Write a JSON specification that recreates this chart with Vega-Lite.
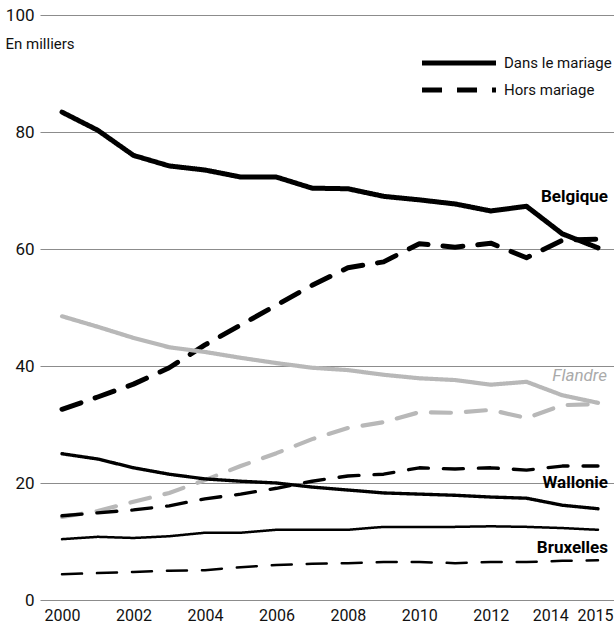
{
  "$schema": "https://vega.github.io/schema/vega-lite/v6.json",
  "width": 574,
  "height": 585,
  "autosize": {"type": "none"},
  "padding": {"left": 40, "top": 15, "right": 0, "bottom": 30},
  "config": {
    "view": {"stroke": null},
    "font": "Roboto",
    "axis": {"labelColor": "#111", "labelFont": "Roboto", "titleFont": "Roboto"},
    "legend": {"labelFont": "Roboto"},
    "text": {"font": "Roboto"}
  },
  "datasets": {
    "births": [
      {"region": "Belgique", "type": "Dans le mariage", "year": 2000, "value": 83.4},
      {"region": "Belgique", "type": "Dans le mariage", "year": 2001, "value": 80.3},
      {"region": "Belgique", "type": "Dans le mariage", "year": 2002, "value": 76.0},
      {"region": "Belgique", "type": "Dans le mariage", "year": 2003, "value": 74.2},
      {"region": "Belgique", "type": "Dans le mariage", "year": 2004, "value": 73.5},
      {"region": "Belgique", "type": "Dans le mariage", "year": 2005, "value": 72.3},
      {"region": "Belgique", "type": "Dans le mariage", "year": 2006, "value": 72.3},
      {"region": "Belgique", "type": "Dans le mariage", "year": 2007, "value": 70.4},
      {"region": "Belgique", "type": "Dans le mariage", "year": 2008, "value": 70.3},
      {"region": "Belgique", "type": "Dans le mariage", "year": 2009, "value": 69.0},
      {"region": "Belgique", "type": "Dans le mariage", "year": 2010, "value": 68.4},
      {"region": "Belgique", "type": "Dans le mariage", "year": 2011, "value": 67.7},
      {"region": "Belgique", "type": "Dans le mariage", "year": 2012, "value": 66.5},
      {"region": "Belgique", "type": "Dans le mariage", "year": 2013, "value": 67.3},
      {"region": "Belgique", "type": "Dans le mariage", "year": 2014, "value": 62.6},
      {"region": "Belgique", "type": "Dans le mariage", "year": 2015, "value": 60.2},
      {"region": "Belgique", "type": "Hors mariage", "year": 2000, "value": 32.6},
      {"region": "Belgique", "type": "Hors mariage", "year": 2001, "value": 34.7},
      {"region": "Belgique", "type": "Hors mariage", "year": 2002, "value": 36.9},
      {"region": "Belgique", "type": "Hors mariage", "year": 2003, "value": 39.7},
      {"region": "Belgique", "type": "Hors mariage", "year": 2004, "value": 43.6},
      {"region": "Belgique", "type": "Hors mariage", "year": 2005, "value": 47.0},
      {"region": "Belgique", "type": "Hors mariage", "year": 2006, "value": 50.4},
      {"region": "Belgique", "type": "Hors mariage", "year": 2007, "value": 53.8},
      {"region": "Belgique", "type": "Hors mariage", "year": 2008, "value": 56.8},
      {"region": "Belgique", "type": "Hors mariage", "year": 2009, "value": 57.8},
      {"region": "Belgique", "type": "Hors mariage", "year": 2010, "value": 60.9},
      {"region": "Belgique", "type": "Hors mariage", "year": 2011, "value": 60.3},
      {"region": "Belgique", "type": "Hors mariage", "year": 2012, "value": 61.0},
      {"region": "Belgique", "type": "Hors mariage", "year": 2013, "value": 58.5},
      {"region": "Belgique", "type": "Hors mariage", "year": 2014, "value": 61.5},
      {"region": "Belgique", "type": "Hors mariage", "year": 2015, "value": 61.7},
      {"region": "Flandre", "type": "Dans le mariage", "year": 2000, "value": 48.5},
      {"region": "Flandre", "type": "Dans le mariage", "year": 2001, "value": 46.7},
      {"region": "Flandre", "type": "Dans le mariage", "year": 2002, "value": 44.8},
      {"region": "Flandre", "type": "Dans le mariage", "year": 2003, "value": 43.2},
      {"region": "Flandre", "type": "Dans le mariage", "year": 2004, "value": 42.4},
      {"region": "Flandre", "type": "Dans le mariage", "year": 2005, "value": 41.4},
      {"region": "Flandre", "type": "Dans le mariage", "year": 2006, "value": 40.5},
      {"region": "Flandre", "type": "Dans le mariage", "year": 2007, "value": 39.7},
      {"region": "Flandre", "type": "Dans le mariage", "year": 2008, "value": 39.3},
      {"region": "Flandre", "type": "Dans le mariage", "year": 2009, "value": 38.5},
      {"region": "Flandre", "type": "Dans le mariage", "year": 2010, "value": 37.9},
      {"region": "Flandre", "type": "Dans le mariage", "year": 2011, "value": 37.6},
      {"region": "Flandre", "type": "Dans le mariage", "year": 2012, "value": 36.8},
      {"region": "Flandre", "type": "Dans le mariage", "year": 2013, "value": 37.3},
      {"region": "Flandre", "type": "Dans le mariage", "year": 2014, "value": 35.0},
      {"region": "Flandre", "type": "Dans le mariage", "year": 2015, "value": 33.7},
      {"region": "Flandre", "type": "Hors mariage", "year": 2000, "value": 14.2},
      {"region": "Flandre", "type": "Hors mariage", "year": 2001, "value": 15.2},
      {"region": "Flandre", "type": "Hors mariage", "year": 2002, "value": 16.8},
      {"region": "Flandre", "type": "Hors mariage", "year": 2003, "value": 18.3},
      {"region": "Flandre", "type": "Hors mariage", "year": 2004, "value": 20.5},
      {"region": "Flandre", "type": "Hors mariage", "year": 2005, "value": 22.9},
      {"region": "Flandre", "type": "Hors mariage", "year": 2006, "value": 25.1},
      {"region": "Flandre", "type": "Hors mariage", "year": 2007, "value": 27.5},
      {"region": "Flandre", "type": "Hors mariage", "year": 2008, "value": 29.4},
      {"region": "Flandre", "type": "Hors mariage", "year": 2009, "value": 30.4},
      {"region": "Flandre", "type": "Hors mariage", "year": 2010, "value": 32.1},
      {"region": "Flandre", "type": "Hors mariage", "year": 2011, "value": 32.0},
      {"region": "Flandre", "type": "Hors mariage", "year": 2012, "value": 32.5},
      {"region": "Flandre", "type": "Hors mariage", "year": 2013, "value": 31.1},
      {"region": "Flandre", "type": "Hors mariage", "year": 2014, "value": 33.3},
      {"region": "Flandre", "type": "Hors mariage", "year": 2015, "value": 33.5},
      {"region": "Wallonie", "type": "Dans le mariage", "year": 2000, "value": 25.0},
      {"region": "Wallonie", "type": "Dans le mariage", "year": 2001, "value": 24.1},
      {"region": "Wallonie", "type": "Dans le mariage", "year": 2002, "value": 22.6},
      {"region": "Wallonie", "type": "Dans le mariage", "year": 2003, "value": 21.5},
      {"region": "Wallonie", "type": "Dans le mariage", "year": 2004, "value": 20.7},
      {"region": "Wallonie", "type": "Dans le mariage", "year": 2005, "value": 20.3},
      {"region": "Wallonie", "type": "Dans le mariage", "year": 2006, "value": 20.0},
      {"region": "Wallonie", "type": "Dans le mariage", "year": 2007, "value": 19.3},
      {"region": "Wallonie", "type": "Dans le mariage", "year": 2008, "value": 18.8},
      {"region": "Wallonie", "type": "Dans le mariage", "year": 2009, "value": 18.3},
      {"region": "Wallonie", "type": "Dans le mariage", "year": 2010, "value": 18.1},
      {"region": "Wallonie", "type": "Dans le mariage", "year": 2011, "value": 17.9},
      {"region": "Wallonie", "type": "Dans le mariage", "year": 2012, "value": 17.6},
      {"region": "Wallonie", "type": "Dans le mariage", "year": 2013, "value": 17.4},
      {"region": "Wallonie", "type": "Dans le mariage", "year": 2014, "value": 16.2},
      {"region": "Wallonie", "type": "Dans le mariage", "year": 2015, "value": 15.6},
      {"region": "Wallonie", "type": "Hors mariage", "year": 2000, "value": 14.4},
      {"region": "Wallonie", "type": "Hors mariage", "year": 2001, "value": 14.9},
      {"region": "Wallonie", "type": "Hors mariage", "year": 2002, "value": 15.4},
      {"region": "Wallonie", "type": "Hors mariage", "year": 2003, "value": 16.1},
      {"region": "Wallonie", "type": "Hors mariage", "year": 2004, "value": 17.3},
      {"region": "Wallonie", "type": "Hors mariage", "year": 2005, "value": 18.1},
      {"region": "Wallonie", "type": "Hors mariage", "year": 2006, "value": 19.1},
      {"region": "Wallonie", "type": "Hors mariage", "year": 2007, "value": 20.3},
      {"region": "Wallonie", "type": "Hors mariage", "year": 2008, "value": 21.2},
      {"region": "Wallonie", "type": "Hors mariage", "year": 2009, "value": 21.5},
      {"region": "Wallonie", "type": "Hors mariage", "year": 2010, "value": 22.6},
      {"region": "Wallonie", "type": "Hors mariage", "year": 2011, "value": 22.4},
      {"region": "Wallonie", "type": "Hors mariage", "year": 2012, "value": 22.6},
      {"region": "Wallonie", "type": "Hors mariage", "year": 2013, "value": 22.2},
      {"region": "Wallonie", "type": "Hors mariage", "year": 2014, "value": 22.9},
      {"region": "Wallonie", "type": "Hors mariage", "year": 2015, "value": 22.9},
      {"region": "Bruxelles", "type": "Dans le mariage", "year": 2000, "value": 10.4},
      {"region": "Bruxelles", "type": "Dans le mariage", "year": 2001, "value": 10.8},
      {"region": "Bruxelles", "type": "Dans le mariage", "year": 2002, "value": 10.6},
      {"region": "Bruxelles", "type": "Dans le mariage", "year": 2003, "value": 10.9},
      {"region": "Bruxelles", "type": "Dans le mariage", "year": 2004, "value": 11.5},
      {"region": "Bruxelles", "type": "Dans le mariage", "year": 2005, "value": 11.5},
      {"region": "Bruxelles", "type": "Dans le mariage", "year": 2006, "value": 12.0},
      {"region": "Bruxelles", "type": "Dans le mariage", "year": 2007, "value": 12.0},
      {"region": "Bruxelles", "type": "Dans le mariage", "year": 2008, "value": 12.0},
      {"region": "Bruxelles", "type": "Dans le mariage", "year": 2009, "value": 12.5},
      {"region": "Bruxelles", "type": "Dans le mariage", "year": 2010, "value": 12.5},
      {"region": "Bruxelles", "type": "Dans le mariage", "year": 2011, "value": 12.5},
      {"region": "Bruxelles", "type": "Dans le mariage", "year": 2012, "value": 12.6},
      {"region": "Bruxelles", "type": "Dans le mariage", "year": 2013, "value": 12.5},
      {"region": "Bruxelles", "type": "Dans le mariage", "year": 2014, "value": 12.3},
      {"region": "Bruxelles", "type": "Dans le mariage", "year": 2015, "value": 12.0},
      {"region": "Bruxelles", "type": "Hors mariage", "year": 2000, "value": 4.4},
      {"region": "Bruxelles", "type": "Hors mariage", "year": 2001, "value": 4.6},
      {"region": "Bruxelles", "type": "Hors mariage", "year": 2002, "value": 4.8},
      {"region": "Bruxelles", "type": "Hors mariage", "year": 2003, "value": 5.0},
      {"region": "Bruxelles", "type": "Hors mariage", "year": 2004, "value": 5.1},
      {"region": "Bruxelles", "type": "Hors mariage", "year": 2005, "value": 5.6},
      {"region": "Bruxelles", "type": "Hors mariage", "year": 2006, "value": 6.0},
      {"region": "Bruxelles", "type": "Hors mariage", "year": 2007, "value": 6.2},
      {"region": "Bruxelles", "type": "Hors mariage", "year": 2008, "value": 6.3},
      {"region": "Bruxelles", "type": "Hors mariage", "year": 2009, "value": 6.5},
      {"region": "Bruxelles", "type": "Hors mariage", "year": 2010, "value": 6.5},
      {"region": "Bruxelles", "type": "Hors mariage", "year": 2011, "value": 6.3},
      {"region": "Bruxelles", "type": "Hors mariage", "year": 2012, "value": 6.5},
      {"region": "Bruxelles", "type": "Hors mariage", "year": 2013, "value": 6.5},
      {"region": "Bruxelles", "type": "Hors mariage", "year": 2014, "value": 6.7},
      {"region": "Bruxelles", "type": "Hors mariage", "year": 2015, "value": 6.8}
    ],
    "labels": [
      {"region": "Belgique", "year": 2015, "value": 68.9},
      {"region": "Flandre", "year": 2015, "value": 38.3},
      {"region": "Wallonie", "year": 2015, "value": 20.0},
      {"region": "Bruxelles", "year": 2015, "value": 8.9}
    ]
  },
  "layer": [
    {
      "data": {"name": "births"},
      "mark": {"type": "line", "strokeCap": "round", "strokeJoin": "round"},
      "encoding": {
        "x": {
          "field": "year", "type": "quantitative",
          "scale": {"domain": [1999.384, 2015.448], "nice": false, "zero": false},
          "axis": {
            "title": null, "grid": false, "domain": false, "ticks": false,
            "values": [2000, 2002, 2004, 2006, 2008, 2010, 2012, 2014, 2015],
            "format": "d", "labelFontSize": 16, "labelPadding": 7,
            "labelOffset": {"expr": "datum.value == 2014 ? -12 : (datum.value == 2015 ? -3 : 0)"}
          }
        },
        "y": {
          "field": "value", "type": "quantitative",
          "scale": {"domain": [0, 100], "nice": false},
          "axis": {
            "title": "En milliers", "titleAngle": 0, "titleAlign": "left", "titleBaseline": "middle",
            "titleX": -35, "titleY": 28, "titleFontWeight": "normal", "titleFontSize": 15, "titleColor": "#111",
            "grid": true, "gridColor": "#8c8c8c", "gridWidth": 1, "domain": false, "ticks": false,
            "values": [0, 20, 40, 60, 80, 100], "labelFontSize": 17, "labelPadding": 6
          }
        },
        "color": {
          "field": "region", "type": "nominal",
          "scale": {"domain": ["Belgique", "Flandre", "Wallonie", "Bruxelles"], "range": ["#000000", "#b8b8b8", "#000000", "#000000"]},
          "legend": null
        },
        "strokeWidth": {
          "field": "region", "type": "nominal",
          "scale": {"domain": ["Belgique", "Flandre", "Wallonie", "Bruxelles"], "range": [5, 2.5, 4.5, 4.5]},
          "legend": null
        },
        "strokeDash": {
          "field": "type", "type": "nominal",
          "scale": {"domain": ["Dans le mariage", "Hors mariage"], "range": [[1, 0], [20, 15]]},
          "legend": {
            "title": null, "orient": "none", "legendX": 407, "legendY": 36,
            "symbolType": "M-4,0H4", "symbolSize": 342, "symbolStrokeWidth": 5,
            "symbolStrokeColor": "#000000", "labelFontSize": 15, "labelColor": "#111",
            "labelOffset": 33, "rowPadding": 5, "padding": 0
          }
        }
      }
    },
    {
      "data": {"name": "labels"},
      "transform": [{"filter": "datum.region != 'Flandre'"}],
      "mark": {"type": "text", "align": "right", "baseline": "middle", "dx": 10, "fontSize": 17, "fontWeight": "bold", "color": "#000000"},
      "encoding": {
        "x": {"field": "year", "type": "quantitative"},
        "y": {"field": "value", "type": "quantitative"},
        "text": {"field": "region"}
      }
    },
    {
      "data": {"name": "labels"},
      "transform": [{"filter": "datum.region == 'Flandre'"}],
      "mark": {"type": "text", "align": "right", "baseline": "middle", "dx": 9, "fontSize": 17, "fontStyle": "italic", "color": "#aaaaaa"},
      "encoding": {
        "x": {"field": "year", "type": "quantitative"},
        "y": {"field": "value", "type": "quantitative"},
        "text": {"field": "region"}
      }
    }
  ]
}
